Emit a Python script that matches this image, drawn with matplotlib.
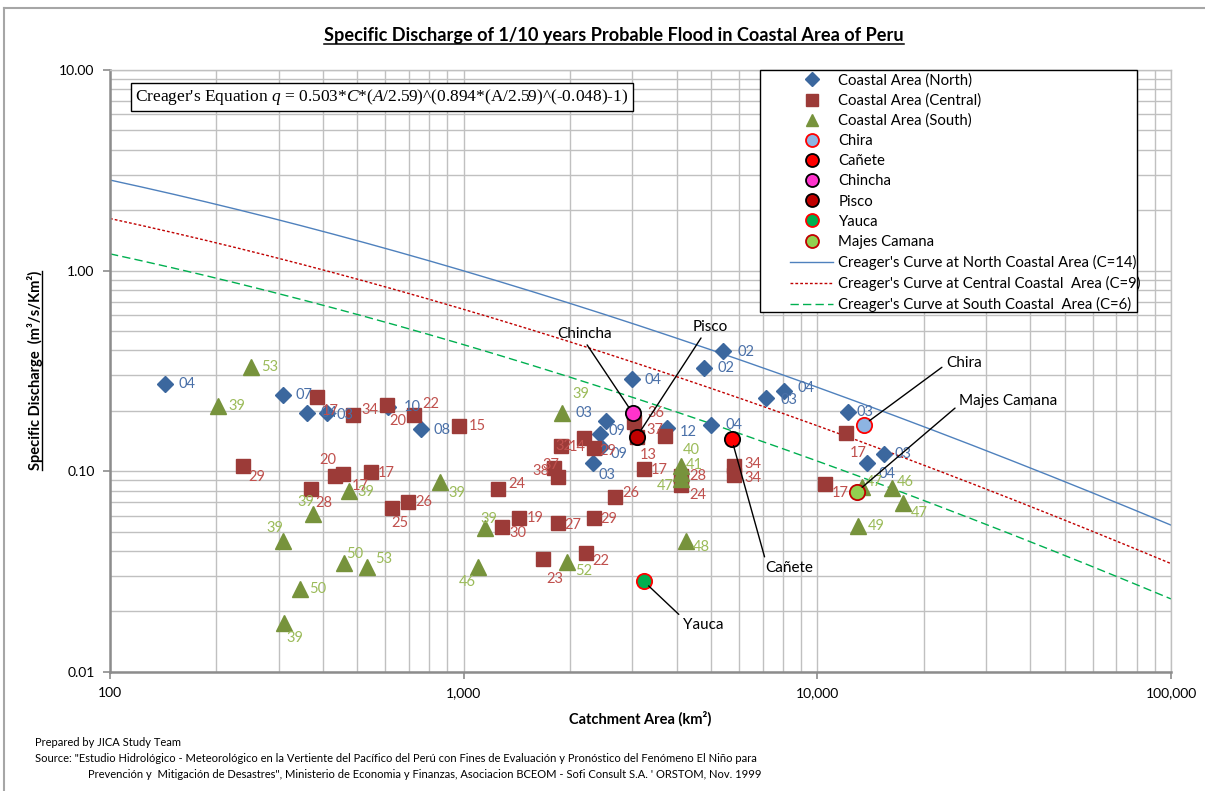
import numpy as np
import matplotlib
matplotlib.use("Agg")
import matplotlib.pyplot as plt
from matplotlib.lines import Line2D
from matplotlib.patches import Rectangle
from matplotlib.ticker import FuncFormatter, FixedLocator, LogLocator, NullFormatter

plt.rcParams['font.family'] = ['Lato', 'DejaVu Sans']
plt.rcParams['mathtext.fontset'] = 'custom'
plt.rcParams['mathtext.rm'] = 'Liberation Serif'
plt.rcParams['mathtext.it'] = 'Liberation Serif:italic'

# Coastal Area (North)
north_area = [143, 309, 361, 411, 612, 759, 2518, 2422, 2438, 2314, 2983, 4770,
              5397, 3747, 4993, 7145, 8035, 12195, 15413, 13798]
north_q = [0.272, 0.240, 0.195, 0.195, 0.209, 0.162, 0.178, 0.153, 0.132, 0.110,
           0.288, 0.327, 0.397, 0.164, 0.170, 0.232, 0.251, 0.197, 0.122, 0.110]
north_lbl = ["04", "07", "04", "03", "10", "08", "03", "09", "09", "03", "04", "02",
             "02", "12", "04", "03", "04", "03", "03", "04"]

# Coastal Area (Central)
central_area = [237, 385, 487, 608, 725, 972, 433, 456, 371, 548, 628, 698, 1254,
                1438, 1287, 1890, 2182, 2329, 1806, 1854, 2670, 2329, 1854, 1681,
                2211, 3022, 3082, 3699, 3226, 4105, 4105, 5799, 5799, 12036, 10493]
central_q = [0.106, 0.234, 0.191, 0.214, 0.191, 0.168, 0.0946, 0.0968, 0.0815,
             0.0991, 0.0656, 0.0702, 0.0815, 0.0584, 0.0527, 0.1335, 0.1464, 0.1305,
             0.1037, 0.0936, 0.0744, 0.0584, 0.0552, 0.0365, 0.0391, 0.176, 0.148,
             0.150, 0.1026, 0.0946, 0.0853, 0.106, 0.0957, 0.155, 0.0864]
central_lbl = ["29", "17", "34", "20", "22", "15", "20", "17", "28", "17", "25", "26",
               "24", "19", "30", "32", "14", "29", "37", "38", "26", "29", "27", "23",
               "22", "36", "37", "13", "17", "28", "24", "34", "34", "17", "17"]

# Coastal Area (South)
south_area = [251, 202, 475, 375, 309, 460, 534, 345, 311, 859, 1101, 1152, 1903,
              1966, 4105, 4105, 4105, 4241, 13356, 16240, 17444, 13011]
south_q = [0.331, 0.211, 0.0797, 0.0612, 0.0449, 0.0349, 0.0333, 0.0259, 0.0175,
           0.0884, 0.0333, 0.0521, 0.195, 0.0353, 0.106, 0.098, 0.0914, 0.0449,
           0.0834, 0.0825, 0.0694, 0.0532]
south_lbl = ["53", "39", "39", "39", "39", "50", "53", "50", "39", "39", "46", "39",
             "39", "52", "40", "41", "47", "48", "47", "46", "47", "49"]

# named rivers
river_names = ["Chira", "Cañete", "Chincha", "Pisco", "Yauca", "Majes Camana"]
river_area = [13529, 5724, 3003, 3082, 3226, 12930]
river_q = [0.170, 0.1447, 0.195, 0.148, 0.0283, 0.0788]

# Creager coefficients
curve_c = [14, 9, 6]
curve_names = ["Creager's Curve at North Coastal Area (C=14)",
               "Creager's Curve at Central Coastal  Area (C=9)",
               "Creager's Curve at South Coastal  Area (C=6)"]

x_ticks = [100, 1000, 10000, 100000]
y_ticks = [0.01, 0.1, 1, 10]

# label offsets (pixels, right / down) for the data labels
north_off = [(22, 0), (21, 0), (22, 0), (18, 2), (24, 0), (21, 1), (-22, -8), (17, -3),
             (18, 7), (14, 12), (21, 1), (22, 0), (23, 1), (22, 4), (23, 0), (23, 2),
             (22, -3), (17, 0), (19, 0), (20, 11)]
central_off = [(14, 11), (13, 14), (17, -5), (11, 16), (17, -11), (18, 0), (-7, -16),
               (17, 12), (12, 14), (15, 1), (8, 15), (15, 0), (18, -5), (16, 0), (16, 6),
               (2, 0), (-6, 9), (14, 3), (-4, -3), (-18, -6), (16, -4), (15, 1), (14, 2),
               (11, 20), (15, 8), (22, -9), (18, -7), (-16, 19), (16, 1), (17, 0),
               (17, 10), (19, -2), (19, 3), (12, 20), (16, 9)]
south_off = [(18, 0), (19, 0), (17, 1), (-7, -12), (-8, -13), (10, -9), (16, -8), (17, 0),
             (11, 15), (17, 11), (-11, 15), (3, -9), (18, -19), (16, 9), (11, -16),
             (14, -8), (-15, 7), (16, 6), (13, -5), (14, -6), (17, 10), (18, 0)]


def creager(a, c):
    r = np.asarray(a) / 2.59
    return 0.503 * c * r ** (0.894 * r ** (-0.048) - 1)


fig = plt.figure(figsize=(12.05, 7.91), dpi=100)
ax = fig.add_axes([110 / 1205, 1 - 671.7 / 791, 1061 / 1205, 601.7 / 791])
ax.set_xscale('log')
ax.set_yscale('log')
ax.set_xlim(100, 100000)
ax.set_ylim(0.01, 10)

ax.grid(True, which='both', color='#c0c0c0', lw=1.0, zorder=0)
ax.set_axisbelow(True)
for s in ['top', 'right']:
    ax.spines[s].set_color('#c0c0c0')
    ax.spines[s].set_linewidth(1.0)
for s in ['left', 'bottom']:
    ax.spines[s].set_color('#8c8c8c')
    ax.spines[s].set_linewidth(1.8)

ax.xaxis.set_major_locator(FixedLocator(x_ticks))
ax.yaxis.set_major_locator(FixedLocator(y_ticks))
ax.xaxis.set_minor_locator(LogLocator(base=10, subs=np.arange(2, 10)))
ax.yaxis.set_minor_locator(LogLocator(base=10, subs=np.arange(2, 10)))
ax.xaxis.set_minor_formatter(NullFormatter())
ax.yaxis.set_minor_formatter(NullFormatter())
ax.xaxis.set_major_formatter(FuncFormatter(lambda v, p: f"{int(v):,}"))
ax.yaxis.set_major_formatter(FuncFormatter(lambda v, p: f"{v:.2f}"))
ax.tick_params(which='major', length=5, color='#8c8c8c', width=1.2, labelsize=10, pad=6)
ax.tick_params(which='minor', length=0)

# Creager curves
area_grid = np.logspace(2, 5, 300)
curve_style = [dict(color='#4F81BD', ls='-', lw=1.0),
               dict(color='#C00000', ls=(0, (2, 1.5)), lw=1.0),
               dict(color='#00B050', ls=(0, (6, 3)), lw=1.0)]
curve_handles = []
for c, name, st in zip(curve_c, curve_names, curve_style):
    h, = ax.plot(area_grid, creager(area_grid, c), label=name, zorder=2, **st)
    curve_handles.append(h)

# data points
h_n, = ax.plot(north_area, north_q, 'D', ms=8, color='#3B679E', ls='none',
               label='Coastal Area (North)', zorder=3)
h_c, = ax.plot(central_area, central_q, 's', ms=10, color='#9C3B38', ls='none',
               label='Coastal Area (Central)', zorder=4)
h_s, = ax.plot(south_area, south_q, '^', ms=11, color='#77933C', ls='none',
               label='Coastal Area (South)', zorder=5)

river_face = ['#8DB4E2', '#FF0000', '#FF33CC', '#C00000', '#00B050', '#92D050']
river_edge = ['#FF0000', '#000000', '#000000', '#000000', '#FF0000', '#C00000']
river_handles = []
for name, a, q, fc, ec in zip(river_names, river_area, river_q, river_face, river_edge):
    h, = ax.plot([a], [q], 'o', ms=11, mfc=fc, mec=ec, mew=1.3, ls='none',
                 label=name, zorder=7)
    river_handles.append(h)


def add_labels(xs, ys, labels, offs, color):
    for x, y, t, (dx, dy) in zip(xs, ys, labels, offs):
        ax.annotate(t, (x, y), xytext=(dx * 0.72, -dy * 0.72), textcoords='offset points',
                    ha='center', va='center', fontsize=10.5, color=color, zorder=6)


add_labels(north_area, north_q, north_lbl, north_off, '#4A70A8')
add_labels(central_area, central_q, central_lbl, central_off, '#C0504D')
add_labels(south_area, south_q, south_lbl, south_off, '#9BBB59')

# river callouts
callouts = {
    "Chincha": ((2196, 0.483), 'center', (0.5, 0.0)),
    "Pisco": ((4993, 0.523), 'center', (0.3, 0.0)),
    "Chira": ((23080, 0.346), 'left', (0.0, 0.4)),
    "Majes Camana": ((25130, 0.224), 'left', (-0.02, 0.1)),
    "Cañete": ((7145, 0.0329), 'left', (0.0, 1.0)),
    "Yauca": ((4159, 0.0171), 'left', (0.0, 1.0)),
}
for name, a, q in zip(river_names, river_area, river_q):
    pos, ha, rp = callouts[name]
    ax.annotate(name, (a, q), xytext=pos, textcoords='data', ha=ha, va='center',
                fontsize=11, zorder=8,
                arrowprops=dict(arrowstyle='-', color='black', lw=1.0, relpos=rp,
                                shrinkA=1, shrinkB=5))

# equation box
ax.text(0.0236, 0.955,
        r"Creager's Equation $q$ = 0.503*$C$*($A$/2.59)^(0.894*(A/2.59)^(-0.048)-1)",
        transform=ax.transAxes, ha='left', va='center', fontsize=12.5,
        family='Liberation Serif', zorder=9,
        bbox=dict(boxstyle='square,pad=0.25', fc='white', ec='black', lw=1.0))

# legend: frame drawn separately so the handle column can be inset
ax.add_patch(Rectangle((650 / 1061, (671.7 - 312) / 601.7), 377 / 1061, (312 - 70) / 601.7,
                       transform=ax.transAxes, fc='white', ec='black', lw=1.0, zorder=9,
                       clip_on=False))
handles = [h_n, h_c, h_s] + river_handles + curve_handles
leg = ax.legend(handles=handles, loc='upper left', bbox_to_anchor=(677 / 1061, 1.0),
                borderaxespad=0, fontsize=10.7, frameon=False,
                handlelength=2.9, handletextpad=0.35,
                labelspacing=0.41, borderpad=0.2, markerscale=0.85)
leg.set_zorder(10)

ax.set_xlabel("Catchment Area (km²)", fontsize=10.5, fontweight='bold', labelpad=9)
ax.set_ylabel("Specific Discharge  (m³/s/Km²)", fontsize=10.5, fontweight='bold',
              labelpad=12)

title = fig.text(614 / 1205, 1 - 36 / 791,
                 "Specific Discharge of 1/10 years Probable Flood in Coastal Area of Peru",
                 ha='center', va='center', fontsize=13.1, fontweight='bold')

fig.text(35 / 1205, 1 - 743 / 791, "Prepared by JICA Study Team", fontsize=8.0,
         ha='left', va='center')
fig.text(35 / 1205, 1 - 759 / 791,
         "Source: \"Estudio Hidrológico - Meteorológico en la Vertiente del Pacífico del Perú con "
         "Fines de Evaluación y Pronóstico del Fenómeno El Niño para",
         fontsize=8.0, ha='left', va='center')
fig.text(88 / 1205, 1 - 774 / 791,
         "Prevención y  Mitigación de Desastres\", Ministerio de Economia y Finanzas, "
         "Asociacion BCEOM - Sofi Consult S.A. ' ORSTOM, Nov. 1999",
         fontsize=8.0, ha='left', va='center')

# chart area border (left and top edges)
fig.add_artist(Line2D([4 / 1205, 4 / 1205], [0, 1 - 8 / 791], color='#a6a6a6', lw=1.5))
fig.add_artist(Line2D([4 / 1205, 1], [1 - 8 / 791, 1 - 8 / 791], color='#a6a6a6', lw=1.5))

# underline the title and the y label
fig.canvas.draw()
r = fig.canvas.get_renderer()
bb = title.get_window_extent(r).transformed(fig.transFigure.inverted())
fig.add_artist(Line2D([bb.x0, bb.x1], [bb.y0 + 0.001, bb.y0 + 0.001], color='black', lw=1.1))
yl = ax.yaxis.label
bb = yl.get_window_extent(r).transformed(fig.transFigure.inverted())
fig.add_artist(Line2D([bb.x1 - 0.0005, bb.x1 - 0.0005], [bb.y0, bb.y1], color='black', lw=1.0))

fig.savefig("out.png", dpi=100)
